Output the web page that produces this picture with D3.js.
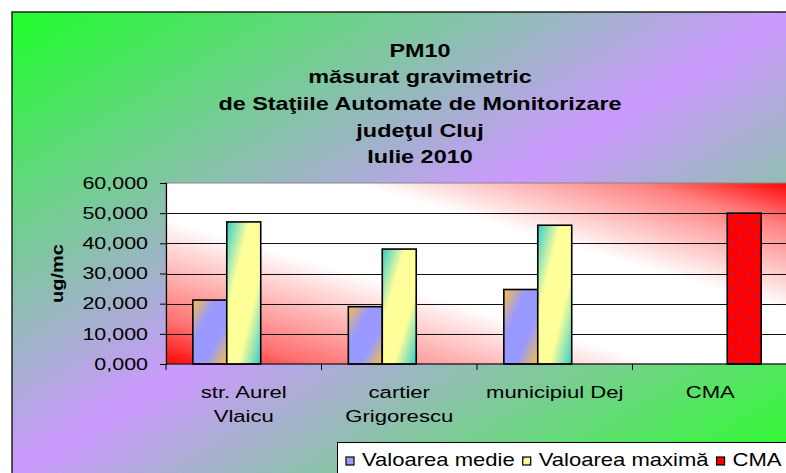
<!DOCTYPE html>
<html>
<head>
<meta charset="utf-8">
<script src="https://cdn.jsdelivr.net/npm/d3@7"></script>
<style>
  html, body { margin: 0; padding: 0; background: #fff; }
  text { font-family: "Liberation Sans", Arial, sans-serif; fill: #000; }
</style>
</head>
<body>
<div id="chart"></div>
<script>
// chart data
var categories = [["str. Aurel", "Vlaicu"], ["cartier", "Grigorescu"], ["municipiul Dej"], ["CMA"]];
var seriesNames = ["Valoarea medie", "Valoarea maximă", "CMA"];
var medie = [21200, 19000, 24700, null];
var maxima = [47100, 38100, 46000, null];
var cma = [null, null, null, 50000];
var yTicks = [0, 10000, 20000, 30000, 40000, 50000, 60000];
var titleLines = ["PM10", "măsurat gravimetric", "de Staţiile Automate de Monitorizare", "judeţul Cluj", "Iulie 2010"];
var yLabel = "ug/mc";

var width = 786, height = 473;
var SX = 1.3; // text in the source is drawn wide

var catNames = categories.map(function(c) { return c.join(" "); });
var series = [medie, maxima, cma];

var svg = d3.select("#chart").append("svg")
    .attr("width", width)
    .attr("height", height);

var defs = svg.append("defs");

function diagGradient(id, x1, y1, x2, y2, stops) {
  var g = defs.append("linearGradient").attr("id", id)
      .attr("x1", x1).attr("y1", y1).attr("x2", x2).attr("y2", y2);
  stops.forEach(function(s) {
    g.append("stop").attr("offset", s[0]).attr("stop-color", s[1]);
  });
}

diagGradient("bgGrad", 0, 0, 1, 1, [[0, "#1eff2a"], [0.48, "#cc99ff"], [0.95, "#2aff2a"], [1, "#2aff2a"]]);
diagGradient("plotGrad", 0, 1, 1, 0, [[0, "#ff0505"], [0.12, "#ff7070"], [0.4, "#ffffff"],
    [0.65, "#ffffff"], [0.88, "#ff8080"], [1, "#ff0505"]]);
diagGradient("medieGrad", 0, 0, 1, 1, [[0, "#f8c040"], [0.33, "#9999ff"], [0.67, "#9999ff"], [1, "#f8c040"]]);
diagGradient("maxGrad", 0, 0, 1, 1, [[0, "#33cccc"], [0.33, "#ffff99"], [0.67, "#ffff99"], [1, "#33cccc"]]);

var pat = defs.append("pattern").attr("id", "cmaPat")
    .attr("patternUnits", "userSpaceOnUse")
    .attr("width", 16).attr("height", 14.6);
pat.append("rect").attr("width", 16).attr("height", 14.6).attr("fill", "#ff0000");
pat.append("circle").attr("cx", 4).attr("cy", 3.6).attr("r", 1.2).attr("fill", "#7030a0");
pat.append("circle").attr("cx", 12).attr("cy", 10.9).attr("r", 1.2).attr("fill", "#7030a0");

var fills = ["url(#medieGrad)", "url(#maxGrad)", "url(#cmaPat)"];

// chart area
svg.append("rect")
    .attr("x", 12).attr("y", 12)
    .attr("width", 816).attr("height", 480)
    .attr("fill", "url(#bgGrad)")
    .attr("stroke", "#222").attr("stroke-width", 1.5);

// title
svg.append("g").selectAll("text")
    .data(titleLines)
    .enter().append("text")
    .attr("text-anchor", "middle")
    .attr("font-weight", "bold")
    .attr("font-size", "18px")
    .attr("transform", function(d, i) { return "translate(420," + (56.5 + i * 26.7) + ") scale(" + SX + ",1)"; })
    .text(function(d) { return d; });

// scales
var x = d3.scaleBand().domain(catNames).range([166, 788]);
var xs = d3.scaleBand().domain(seriesNames).range([0, x.bandwidth()])
    .paddingInner(0).paddingOuter(0.79);
var y = d3.scaleLinear().domain([0, 60000]).range([364, 183]);

var x0 = x.range()[0], x1 = x.range()[1];

// plot area
svg.append("rect")
    .attr("x", x0).attr("y", y(60000))
    .attr("width", x1 - x0).attr("height", y(0) - y(60000))
    .attr("fill", "url(#plotGrad)")
    .attr("stroke", "#888").attr("stroke-width", 1);

// gridlines
svg.append("g").selectAll("line")
    .data(yTicks.filter(function(t) { return t > 0 && t < 60000; }))
    .enter().append("line")
    .attr("x1", x0).attr("x2", x1)
    .attr("y1", function(d) { return Math.round(y(d)) + 0.5; })
    .attr("y2", function(d) { return Math.round(y(d)) + 0.5; })
    .attr("stroke", "#111").attr("stroke-width", 1);

// bars
var groups = svg.append("g").selectAll("g")
    .data(series)
    .enter().append("g")
    .attr("fill", function(d, i) { return fills[i]; });

groups.selectAll("rect")
    .data(function(d, i) {
      return d.map(function(v, j) { return {s: seriesNames[i], c: catNames[j], v: v}; })
              .filter(function(e) { return e.v != null; });
    })
    .enter().append("rect")
    .attr("x", function(d) { return x(d.c) + xs(d.s); })
    .attr("y", function(d) { return y(d.v); })
    .attr("width", xs.bandwidth())
    .attr("height", function(d) { return y(0) - y(d.v); })
    .attr("stroke", "#000").attr("stroke-width", 1.6);

// y axis
var fmt = function(v) { return d3.format(".3f")(v / 1000).replace(".", ","); };
var yAxis = svg.append("g")
    .attr("transform", "translate(" + x0 + ",0)")
    .call(d3.axisLeft(y).tickValues(yTicks).tickSize(6).tickFormat(fmt));
yAxis.select(".domain").attr("stroke", "#000").attr("stroke-width", 1.2);
yAxis.selectAll(".tick line").attr("stroke", "#000");
yAxis.selectAll(".tick text")
    .attr("x", 0)
    .attr("font-size", "16.5px")
    .attr("font-family", "Liberation Sans, Arial, sans-serif")
    .attr("fill", "#000")
    .attr("transform", "translate(-18,0) scale(" + SX + ",1)");

// x axis
svg.append("line")
    .attr("x1", x0).attr("x2", x1)
    .attr("y1", y(0)).attr("y2", y(0))
    .attr("stroke", "#000").attr("stroke-width", 1.2);
svg.append("g").selectAll("line")
    .data(catNames.map(function(c) { return x(c); }).concat([x1]))
    .enter().append("line")
    .attr("x1", function(d) { return d; }).attr("x2", function(d) { return d; })
    .attr("y1", y(0)).attr("y2", y(0) + 6)
    .attr("stroke", "#000");

var catText = svg.append("g").selectAll("text")
    .data(categories)
    .enter().append("text")
    .attr("text-anchor", "middle")
    .attr("font-size", "17px")
    .attr("transform", function(d, i) {
      return "translate(" + (x(catNames[i]) + x.bandwidth() / 2) + ",398) scale(" + SX + ",1)";
    });
catText.selectAll("tspan")
    .data(function(d) { return d; })
    .enter().append("tspan")
    .attr("x", 0)
    .attr("y", function(d, i) { return i * 24; })
    .text(function(d) { return d; });

// y label
svg.append("text")
    .attr("text-anchor", "middle")
    .attr("font-weight", "bold")
    .attr("font-size", "16px")
    .attr("transform", "translate(63," + ((y(0) + y(60000)) / 2) + ") rotate(-90) scale(1.25,1)")
    .text(yLabel);

// legend
var legend = svg.append("g");
legend.append("rect")
    .attr("x", 337.5).attr("y", 442.5)
    .attr("width", 470).attr("height", 50)
    .attr("fill", "#fff")
    .attr("stroke", "#000").attr("stroke-width", 1);

var LX = 1.26;
var lx = 346;
seriesNames.forEach(function(name, i) {
  legend.append("rect")
      .attr("x", lx).attr("y", 457)
      .attr("width", 8).attr("height", 8)
      .attr("fill", fills[i] === "url(#cmaPat)" ? "#ff0000" : fills[i])
      .attr("stroke", "#000").attr("stroke-width", 1.2);
  var t = legend.append("text")
      .attr("font-size", "17.5px")
      .attr("transform", "translate(" + (lx + 16) + ",466) scale(" + LX + ",1)")
      .text(name);
  lx = lx + 16 + t.node().getComputedTextLength() * LX + 8;
});
</script>
</body>
</html>
